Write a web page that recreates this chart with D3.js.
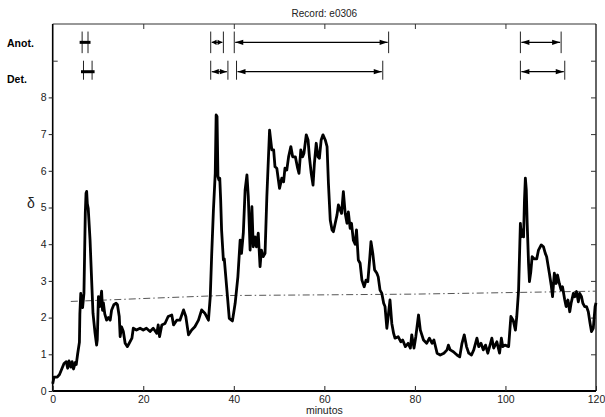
<!DOCTYPE html>
<html><head><meta charset="utf-8">
<script src="https://cdn.jsdelivr.net/npm/d3@7"></script>
<style>body{margin:0;background:#fff}svg{display:block}text{font-family:"Liberation Sans",Arial,sans-serif}</style>
</head><body><svg id="c" width="605" height="417"></svg>
<script>
const minutes = [0,0.3,1.0,1.5,2.0,2.5,3.0,3.3,3.6,4.0,4.3,4.6,5.0,5.2,5.5,5.9,6.0,6.2,6.4,6.6,6.9,7.2,7.36,7.5,7.65,7.85,8.25,8.6,8.9,9.35,9.7,9.85,10.1,10.4,10.8,11.0,11.2,11.5,11.9,12.3,12.7,13.0,13.5,14.0,14.3,14.7,14.9,15.2,15.6,16.0,16.5,16.9,17.5,17.8,18.5,19.3,20.0,20.7,21.5,22.2,23.0,23.3,23.6,24.1,24.8,25.5,26.3,26.7,27.4,28.1,28.9,29.4,30.0,30.7,31.4,32.2,32.9,33.6,34.4,34.8,35.1,35.5,35.9,36.1,36.3,36.5,36.7,36.9,37.1,37.3,37.7,37.9,38.1,38.6,39.0,39.7,40.3,40.9,41.4,41.7,42.1,42.5,42.9,43.2,43.6,44.0,44.3,44.7,45.0,45.4,45.8,46.1,46.5,46.9,47.3,47.9,48.4,48.8,49.1,49.5,50.1,50.6,51.0,51.3,51.7,52.1,52.6,53.0,53.6,54.1,54.4,54.8,55.2,55.5,56.0,56.4,56.7,57.1,57.5,57.8,58.2,58.6,58.9,59.3,59.7,60.2,60.6,60.9,61.3,61.7,62.0,62.4,62.8,63.1,63.5,63.8,64.2,64.6,65.0,65.3,65.7,66.0,66.4,66.8,67.1,67.5,67.9,68.3,68.8,69.2,69.6,70.0,70.3,70.7,71.1,71.6,71.9,72.3,72.7,73.1,73.4,73.8,74.1,74.5,74.9,75.3,75.6,76.3,76.9,77.3,77.9,78.5,79.0,79.3,79.8,80.2,80.8,81.2,81.9,82.6,83.2,83.8,84.2,84.9,85.6,86.4,87.1,87.4,87.8,88.5,89.3,89.9,90.4,90.9,91.4,91.9,92.5,93.0,93.7,94.1,94.6,95.1,95.6,96.1,96.7,97.0,97.4,98.1,98.7,99.1,99.4,99.9,100.7,101.2,101.7,102.2,102.5,102.9,103.1,103.3,103.5,103.7,104.0,104.2,104.4,104.6,104.8,105.1,105.3,105.6,105.9,106.4,106.9,107.3,107.9,108.4,108.8,109.1,109.4,109.7,110.1,110.4,110.8,111.2,111.5,111.9,112.3,112.6,113.1,113.4,113.8,114.2,114.5,115.0,115.3,115.7,116.1,116.4,116.8,117.1,117.5,117.9,118.3,118.7,119.0,119.4,119.8,120];
const delta = [0.2,0.38,0.38,0.45,0.6,0.75,0.8,0.62,0.82,0.65,0.8,0.6,0.78,0.72,1.0,1.33,2.1,2.66,2.4,2.27,2.66,4.84,5.39,5.44,5.1,4.97,4.11,3.02,2.12,1.58,1.25,1.4,2.57,2.3,2.72,2.2,2.4,2.1,1.93,2.0,1.93,2.2,2.35,2.39,2.35,2.03,1.48,1.75,1.62,1.3,1.21,1.3,1.44,1.71,1.66,1.71,1.66,1.71,1.62,1.71,1.57,1.8,1.48,1.8,1.84,2.03,2.07,1.8,1.93,1.93,2.21,2.03,1.53,1.66,1.75,1.93,2.21,2.12,1.93,2.57,3.66,4.93,5.93,7.52,7.48,5.84,5.75,5.8,5.2,4.39,3.57,3.6,3.3,2.57,1.98,1.91,2.39,3.11,4.11,3.75,4.3,5.48,5.89,5.3,3.84,5.02,3.93,4.2,3.93,4.3,3.39,3.84,3.66,3.75,5.3,7.11,6.57,6.57,6.11,6.07,5.52,5.8,5.7,6.07,6.02,6.38,6.66,6.38,6.38,6.07,5.93,6.57,6.38,6.48,6.98,6.84,6.38,5.93,5.61,6.2,6.75,6.38,6.34,6.84,6.98,6.84,6.66,5.66,4.66,4.39,4.34,4.57,4.8,5.07,4.93,4.84,5.43,4.84,4.57,4.88,4.43,4.57,4.11,4.0,4.39,3.57,3.48,3.02,2.84,3.02,2.98,3.57,4.07,3.75,3.3,3.21,3.11,2.75,2.66,2.39,2.3,1.71,2.03,2.48,1.84,1.57,1.44,1.48,1.34,1.39,1.21,1.3,1.17,1.53,1.17,1.48,2.07,1.66,1.39,1.3,1.44,1.3,1.39,1.03,0.98,1.03,1.12,1.25,1.12,1.07,0.98,0.93,1.3,1.53,1.21,1.03,0.98,1.12,1.44,1.21,1.3,1.12,1.25,1.03,1.3,1.44,1.17,1.34,1.03,1.44,1.21,1.25,1.21,2.03,1.93,1.66,2.03,2.75,3.66,4.57,4.2,4.39,4.2,5.2,5.8,5.48,4.57,3.48,2.98,3.25,3.66,3.6,3.6,3.84,3.98,3.93,3.75,3.66,3.43,3.21,2.89,2.57,3.21,2.93,3.16,2.93,2.75,2.84,2.48,2.3,2.48,2.16,2.39,2.66,2.57,2.71,2.43,2.66,2.57,2.39,2.3,2.3,2.16,1.84,1.62,1.71,2.3,2.4];
const thrMin = [4, 20, 37, 60, 80, 100, 120];
const thrVal = [2.44, 2.52, 2.60, 2.62, 2.64, 2.68, 2.72];
const anotStart = [6.5, 34.9, 40.1, 103.3];
const anotEnd = [7.8, 37.7, 74.2, 112.3];
const detStart = [6.8, 34.9, 40.6, 103.3];
const detEnd = [8.7, 38.7, 72.9, 113.1];
const xTicks = [0, 20, 40, 60, 80, 100, 120];
const yTicks = [0, 1, 2, 3, 4, 5, 6, 7, 8];
const rowLabels = ["Anot.", "Det."];
const title = "Record: e0306";
const xTitle = "minutos";
const yTitle = "δ";

const svg = d3.select("#c");
const x = d3.scaleLinear().domain([0, 120]).range([52.7, 596]);
const y = d3.scaleLinear().domain([0, 10]).range([391, 24]);

// frame
const g = svg.append("g");
g.append("line").attr("x1", x(0)).attr("x2", x(120)).attr("y1", y(10)).attr("y2", y(10)).attr("stroke", "#333").attr("stroke-width", 1.2);
g.append("line").attr("x1", x(120)).attr("x2", x(120)).attr("y1", y(10)).attr("y2", y(0)).attr("stroke", "#111").attr("stroke-width", 1.3);
g.append("line").attr("x1", x(0)).attr("x2", x(0)).attr("y1", y(10)).attr("y2", y(0)).attr("stroke", "#000").attr("stroke-width", 1.6);
g.append("line").attr("x1", x(0)).attr("x2", x(120)).attr("y1", y(0)).attr("y2", y(0)).attr("stroke", "#000").attr("stroke-width", 1.8);

// x axis
const xa = svg.append("g").attr("transform", `translate(0,${y(0)})`)
  .call(d3.axisBottom(x).tickValues(xTicks).tickSizeInner(-5).tickSizeOuter(0).tickPadding(5));
xa.select(".domain").remove();
xa.selectAll("text").attr("font-size", 10.5).attr("fill", "#222");
xa.selectAll("line").attr("stroke", "#222");
// top ticks
const xt = svg.append("g").attr("transform", `translate(0,${y(10)})`)
  .call(d3.axisTop(x).tickValues(xTicks.slice(1, -1)).tickSizeInner(-5).tickSizeOuter(0).tickFormat(""));
xt.select(".domain").remove();
xt.selectAll("line").attr("stroke", "#333");

// y axis (outward labelled ticks)
const ya = svg.append("g").attr("transform", `translate(${x(0)},0)`)
  .call(d3.axisLeft(y).tickValues(yTicks).tickSize(4).tickPadding(2));
ya.select(".domain").remove();
ya.selectAll("text").attr("font-size", 10.5).attr("fill", "#222");
ya.selectAll("line").attr("stroke", "#222");
// inward tick at 9 on left
const yb = svg.append("g").attr("transform", `translate(${x(0)},0)`)
  .call(d3.axisLeft(y).tickValues([9]).tickSize(-5).tickFormat(""));
yb.select(".domain").remove();
yb.selectAll("line").attr("stroke", "#333");
// right ticks
const yr = svg.append("g").attr("transform", `translate(${x(120)},0)`)
  .call(d3.axisRight(y).tickValues(d3.range(1, 10)).tickSize(-5).tickFormat(""));
yr.select(".domain").remove();
yr.selectAll("line").attr("stroke", "#333");

// threshold dash-dot
svg.append("path")
  .datum(thrMin.map((m, i) => [m, thrVal[i]]))
  .attr("fill", "none").attr("stroke", "#555").attr("stroke-width", 1)
  .attr("stroke-dasharray", "7,3,1.5,3")
  .attr("d", d3.line().x(d => x(d[0])).y(d => y(d[1])));

// main curve
svg.append("path")
  .datum(minutes.map((m, i) => [m, delta[i]]))
  .attr("fill", "none").attr("stroke", "#000").attr("stroke-width", 2.8)
  .attr("stroke-linejoin", "round")
  .attr("d", d3.line().x(d => x(d[0])).y(d => y(d[1])));

// annotation rows
function row(starts, ends, yv, top, bot) {
  const yy = y(yv);
  const gg = svg.append("g");
  starts.forEach((s, i) => {
    const x1 = x(s), x2 = x(ends[i]);
    [x1, x2].forEach(xx => gg.append("line").attr("x1", xx).attr("x2", xx)
      .attr("y1", yy - top).attr("y2", yy + bot).attr("stroke", "#222").attr("stroke-width", 1));
    const w = x2 - x1;
    if (w < 10) {
      gg.append("line").attr("x1", x1 - 2.5).attr("x2", x2 + 2.5).attr("y1", yy).attr("y2", yy)
        .attr("stroke", "#000").attr("stroke-width", 3);
    } else {
      const L = Math.min(8, w / 2 - 1.5), H = 2.6;
      gg.append("line").attr("x1", x1 + 1).attr("x2", x2 - 1).attr("y1", yy).attr("y2", yy)
        .attr("stroke", "#000").attr("stroke-width", 1.2);
      gg.append("path").attr("fill", "#000")
        .attr("d", `M${x1 + 1},${yy}L${x1 + 1 + L},${yy - H}L${x1 + 1 + L},${yy + H}Z`);
      gg.append("path").attr("fill", "#000")
        .attr("d", `M${x2 - 1},${yy}L${x2 - 1 - L},${yy - H}L${x2 - 1 - L},${yy + H}Z`);
    }
  });
}
row(anotStart, anotEnd, 9.5, 10.8, 10.8);
row(detStart, detEnd, 8.7, 11, 8);

svg.append("text").attr("x", 7).attr("y", 47).attr("font-size", 10.5).attr("font-weight", "bold").text(rowLabels[0]);
svg.append("text").attr("x", 7).attr("y", 83).attr("font-size", 10.5).attr("font-weight", "bold").text(rowLabels[1]);

svg.append("text").attr("x", (x(0) + x(120)) / 2).attr("y", 17).attr("text-anchor", "middle")
  .attr("font-size", 10).attr("fill", "#222").text(title);
svg.append("text").attr("x", (x(0) + x(120)) / 2).attr("y", 414).attr("text-anchor", "middle")
  .attr("font-size", 10.5).attr("fill", "#222").text(xTitle);
svg.append("text").attr("x", 31).attr("y", 208).attr("text-anchor", "middle")
  .attr("font-size", 14).attr("fill", "#222").text(yTitle);
</script></body></html>
